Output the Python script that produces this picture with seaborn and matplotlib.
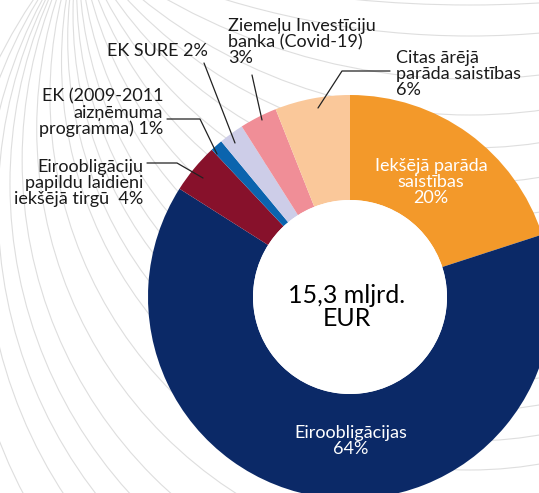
import numpy as np
import matplotlib
matplotlib.use("Agg")
import matplotlib.pyplot as plt
from matplotlib.patches import Circle
import seaborn as sns

# ---- data ----
categories = ["Iekšējā parāda saistības", "Eiroobligācijas",
              "Eiroobligāciju papildu laidieni iekšējā tirgū",
              "EK (2009-2011 aizņēmuma programma)", "EK SURE",
              "Ziemeļu Investīciju banka (Covid-19)",
              "Citas ārējā parāda saistības"]
shares = [20, 64, 4, 1, 2, 3, 6]
colors = ["#F3992A", "#0B2967", "#87112B", "#0B64AE", "#CDCDE8", "#F08E97", "#FAC89A"]
inside_labels = ["Iekšējā parāda\nsaistības\n20%", "Eiroobligācijas\n64%"]
outside_labels = ["Eiroobligāciju\npapildu laidieni\niekšējā tirgū  4%",
                  "EK (2009-2011\naizņēmuma\nprogramma) 1%",
                  "EK SURE 2%",
                  "Ziemeļu Investīciju\nbanka (Covid-19)\n3%",
                  "Citas ārējā\nparāda saistības\n6%"]
total_text = "15,3 mljrd.\nEUR"

# decorative background rings: lowest point (pixel y) of each ring
ring_bottoms = [5, 36, 79, 115, 148, 183, 218, 253, 288, 323, 355, 384,
                411, 441, 470, 516, 562, 608, 644, 678, 714, 764, 820]

sns.set_theme(style="white")
plt.rcParams['font.family'] = ['Lato', 'DejaVu Sans']

W, H = 539, 493
fig = plt.figure(figsize=(W / 100, H / 100), dpi=100)
ax = fig.add_axes([0, 0, 1, 1])

def Y(y):  # image-pixel y -> data y
    return H - y

# ---- decorative background arcs (circles through two common points) ----
px, py, cxl = 80, -60, 470
h = cxl - px
for b in ring_bottoms:
    cy = (b ** 2 - h ** 2 - py ** 2) / (2 * (b - py))
    r = b - cy
    ax.add_patch(Circle((cxl, Y(cy)), r, fill=False, edgecolor="#dedede",
                        linewidth=0.8, zorder=0))

# ---- donut ----
cx, cy0, R, Rin = 350, Y(297), 202, 97
pal = sns.color_palette(colors)
ax.pie(shares, colors=pal, startangle=90, counterclock=False, radius=R,
       center=(cx, cy0), wedgeprops=dict(width=R - Rin, linewidth=0),
       frame=True)
ax.add_patch(Circle((cx, cy0), Rin, facecolor="white", edgecolor="none", zorder=5))

fs = 13
lw = "normal"
ax.text(431, Y(182), inside_labels[0], color="white", ha="center", va="center",
        fontsize=fs, fontweight=lw, linespacing=1.0, zorder=6)
ax.text(351, Y(441), inside_labels[1], color="white", ha="center", va="center",
        fontsize=fs, fontweight=lw, linespacing=1.0, zorder=6)
ax.text(347, Y(307), total_text, color="black", ha="center", va="center",
        fontsize=18, linespacing=0.95, zorder=6)

tc = "#1a1a1a"
ax.text(143, Y(183), outside_labels[0], ha="right", va="center", fontsize=fs,
        fontweight=lw, color=tc, linespacing=1.0)
ax.text(163, Y(113), outside_labels[1], ha="right", va="center", fontsize=fs,
        fontweight=lw, color=tc, linespacing=1.0)
ax.text(208, Y(51), outside_labels[2], ha="right", va="center", fontsize=fs,
        fontweight=lw, color=tc)
ax.text(228, Y(42), outside_labels[3], ha="left", va="center", fontsize=fs,
        fontweight=lw, color=tc, linespacing=1.0)
ax.text(396, Y(74), outside_labels[4], ha="left", va="center", fontsize=fs,
        fontweight=lw, color=tc, linespacing=1.0)

lc = "#222222"
lines = [
    [(147, 163), (177, 163), (203, 178)],
    [(167, 119), (200, 119), (217, 154)],
    [(204, 63), (235, 143)],
    [(252, 75), (262, 120)],
    [(390, 71), (342, 71), (318, 108)],
]
for pts in lines:
    ax.plot([p[0] for p in pts], [Y(p[1]) for p in pts], color=lc,
            linewidth=0.9, zorder=7)

ax.set_xlim(0, W)
ax.set_ylim(0, H)
ax.set_aspect("equal")
ax.axis("off")
fig.savefig("out.png", dpi=100, facecolor="white")
